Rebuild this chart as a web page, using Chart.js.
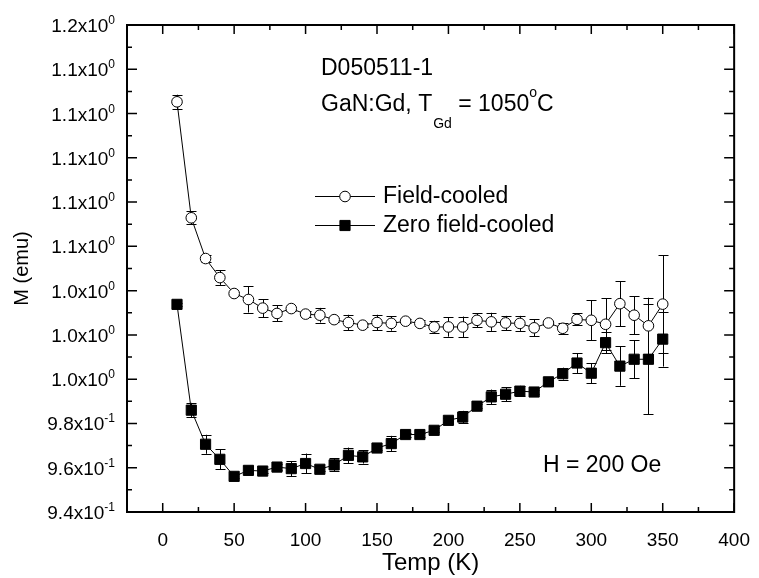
<!DOCTYPE html>
<html>
<head>
<meta charset="utf-8">
<script src="https://cdn.jsdelivr.net/npm/chart.js@4.4.0/dist/chart.umd.min.js"></script>
<style>
  html, body { margin: 0; padding: 0; background: #fff; }
  canvas { display: block; }
</style>
</head>
<body>
<canvas id="mt-chart" width="759" height="578"></canvas>
<script>
// Temperature sweep (K)
const temps = [10, 20, 30, 40, 50, 60, 70, 80, 90, 100,
               110, 120, 130, 140, 150, 160, 170, 180, 190, 200,
               210, 220, 230, 240, 250, 260, 270, 280, 290, 300,
               310, 320, 330, 340, 350];

// Field-cooled magnetisation (emu) and its error
const fcMoment = [1.1253, 1.0729, 1.0545, 1.0459, 1.0387, 1.0360, 1.0321, 1.0297, 1.0319, 1.0294,
                  1.0289, 1.0269, 1.0256, 1.0244, 1.0256, 1.0252, 1.0262, 1.0252, 1.0236, 1.0236,
                  1.0236, 1.0266, 1.0259, 1.0254, 1.0252, 1.0232, 1.0254, 1.0230, 1.0270, 1.0266,
                  1.0248, 1.0341, 1.0289, 1.0241, 1.0339];
const fcError = [0.0032, 0.0029, 0.0014, 0.0033, 0.0007, 0.0059, 0.0041, 0.0036, 0.0009, 0.0014,
                 0.0033, 0.0009, 0.0035, 0.0009, 0.0035, 0.0033, 0.0009, 0.0014, 0.0028, 0.0044,
                 0.0047, 0.0032, 0.0041, 0.0032, 0.0034, 0.0038, 0.0009, 0.0024, 0.0027, 0.0090,
                 0.0118, 0.0102, 0.0086, 0.0127, 0.0221];

// Zero-field-cooled magnetisation (emu) and its error
const zfcMoment = [1.0338, 0.9860, 0.9706, 0.9638, 0.9561, 0.9588, 0.9585, 0.9603, 0.9596, 0.9619,
                   0.9593, 0.9613, 0.9656, 0.9649, 0.9689, 0.9709, 0.9750, 0.9750, 0.9769, 0.9814,
                   0.9829, 0.9878, 0.9920, 0.9932, 0.9946, 0.9942, 0.9988, 1.0025, 1.0073, 1.0027,
                   1.0165, 1.0059, 1.0090, 1.0090, 1.0181];
const zfcError = [0.0007, 0.0033, 0.0043, 0.0045, 0.0009, 0.0018, 0.0009, 0.0014, 0.0034, 0.0045,
                  0.0009, 0.0030, 0.0035, 0.0030, 0.0009, 0.0035, 0.0009, 0.0009, 0.0009, 0.0009,
                  0.0028, 0.0009, 0.0033, 0.0032, 0.0024, 0.0009, 0.0009, 0.0027, 0.0045, 0.0045,
                  0.0047, 0.0089, 0.0086, 0.0249, 0.0124];

const xTickValues = [0, 50, 100, 150, 200, 250, 300, 350, 400];
const xMinorValues = [25, 75, 125, 175, 225, 275, 325, 375];
const yTickValues = [0.94, 0.96, 0.98, 1.00, 1.02, 1.04, 1.06, 1.08, 1.10, 1.12, 1.14, 1.16];
const yMinorValues = [0.95, 0.97, 0.99, 1.01, 1.03, 1.05, 1.07, 1.09, 1.11, 1.13, 1.15];

const FONT = "'Liberation Sans', Arial, sans-serif";

const toPoints = (ys) => temps.map((t, i) => ({ x: t, y: ys[i] }));

// "9.4x10^-1" style labels: mantissa plus raised exponent
function sciParts(v) {
    const exp = Math.floor(Math.log10(v) + 1e-9);
    const mant = v / Math.pow(10, exp);
    return { mant: mant.toFixed(1) + 'x10', exp: String(exp) };
}

const errorBars = {
    id: 'errorBars',
    beforeDatasetsDraw(chart) {
        const { ctx, scales: { x, y } } = chart;
        ctx.save();
        ctx.strokeStyle = '#000';
        ctx.lineWidth = 1;
        chart.data.datasets.forEach(ds => {
            ds.data.forEach((p, i) => {
                const e = ds.errors[i];
                const px = Math.round(x.getPixelForValue(p.x)) + 0.5;
                const y1 = y.getPixelForValue(p.y - e);
                const y2 = y.getPixelForValue(p.y + e);
                ctx.beginPath();
                ctx.moveTo(px, y1); ctx.lineTo(px, y2);
                ctx.moveTo(px - 5, Math.round(y1) + 0.5); ctx.lineTo(px + 5, Math.round(y1) + 0.5);
                ctx.moveTo(px - 5, Math.round(y2) + 0.5); ctx.lineTo(px + 5, Math.round(y2) + 0.5);
                ctx.stroke();
            });
        });
        ctx.restore();
    }
};

// Boxed frame with inward ticks on all four sides, and the y labels
const frameTicks = {
    id: 'frameTicks',
    afterDraw(chart) {
        const { ctx, chartArea: a, scales: { x, y } } = chart;
        ctx.save();
        ctx.strokeStyle = '#000';
        ctx.lineWidth = 1.5;
        const xt = (v, len) => {
            const px = x.getPixelForValue(v);
            ctx.beginPath();
            ctx.moveTo(px, a.bottom); ctx.lineTo(px, a.bottom - len);
            ctx.moveTo(px, a.top); ctx.lineTo(px, a.top + len);
            ctx.stroke();
        };
        const yt = (v, len) => {
            const py = y.getPixelForValue(v);
            ctx.beginPath();
            ctx.moveTo(a.left, py); ctx.lineTo(a.left + len, py);
            ctx.moveTo(a.right, py); ctx.lineTo(a.right - len, py);
            ctx.stroke();
        };
        xTickValues.forEach(v => xt(v, 9));
        xMinorValues.forEach(v => xt(v, 5));
        yTickValues.forEach(v => yt(v, 10));
        yMinorValues.forEach(v => yt(v, 5));

        ctx.lineWidth = 2;
        ctx.strokeRect(a.left, a.top, a.right - a.left, a.bottom - a.top);

        ctx.fillStyle = '#000';
        ctx.textBaseline = 'alphabetic';
        ctx.textAlign = 'right';
        const right = a.left - 12;
        yTickValues.forEach(v => {
            const py = y.getPixelForValue(v);
            const { mant, exp } = sciParts(v);
            ctx.font = '12px ' + FONT;
            const ew = ctx.measureText(exp).width;
            ctx.fillText(exp, right, py - 1);
            ctx.font = '19px ' + FONT;
            ctx.fillText(mant, right - ew, py + 7);
        });
        ctx.restore();
    }
};

// Sample notes, legend and field label inside the plot
const notes = {
    id: 'notes',
    afterDraw(chart) {
        const { ctx } = chart;
        ctx.save();
        ctx.fillStyle = '#000';
        ctx.strokeStyle = '#000';
        ctx.textAlign = 'left';
        ctx.textBaseline = 'alphabetic';

        ctx.font = '23px ' + FONT;
        ctx.fillText('D050511-1', 321, 75);

        let cx = 321;
        const run = (txt, size, base) => {
            ctx.font = size + 'px ' + FONT;
            ctx.fillText(txt, cx, base);
            cx += ctx.measureText(txt).width;
        };
        run('GaN:Gd, T', 23, 111);
        cx += 1;
        run('Gd', 14, 128);
        run(' = 1050', 23, 111);
        run('o', 14, 97);
        run('C', 23, 111);

        ctx.font = '23px ' + FONT;
        ctx.fillText('H = 200 Oe', 543, 472);

        chart.data.datasets.forEach((ds, i) => {
            const ly = 196 + i * 29;
            ctx.lineWidth = 1;
            ctx.beginPath();
            ctx.moveTo(315, ly + 0.5); ctx.lineTo(375, ly + 0.5);
            ctx.stroke();
            ctx.fillStyle = ds.pointBackgroundColor;
            Chart.helpers.drawPoint(ctx, {
                pointStyle: ds.pointStyle, radius: ds.pointRadius,
                rotation: 0, borderWidth: ds.pointBorderWidth
            }, 345, ly + 0.5);
            ctx.fillStyle = '#000';
            ctx.font = '23px ' + FONT;
            ctx.textBaseline = 'middle';
            ctx.fillText(ds.label, 383, ly + 1);
            ctx.textBaseline = 'alphabetic';
        });
        ctx.restore();
    }
};

new Chart(document.getElementById('mt-chart'), {
    type: 'scatter',
    data: {
        datasets: [
            {
                label: 'Field-cooled',
                data: toPoints(fcMoment),
                errors: fcError,
                showLine: true,
                borderColor: '#000',
                borderWidth: 1,
                pointStyle: 'circle',
                pointRadius: 5.3,
                pointBackgroundColor: '#fff',
                pointBorderColor: '#000',
                pointBorderWidth: 1
            },
            {
                label: 'Zero field-cooled',
                data: toPoints(zfcMoment),
                errors: zfcError,
                showLine: true,
                borderColor: '#000',
                borderWidth: 1,
                pointStyle: 'rect',
                pointRadius: 7.2,
                pointBackgroundColor: '#000',
                pointBorderColor: '#000',
                pointBorderWidth: 1
            }
        ]
    },
    options: {
        responsive: false,
        devicePixelRatio: 1,
        animation: false,
        events: [],
        layout: { padding: { top: 25, right: 18, bottom: 0, left: 0 } },
        plugins: { legend: { display: false }, tooltip: { enabled: false } },
        scales: {
            x: {
                type: 'linear',
                min: -25,
                max: 400,
                grid: { display: false },
                border: { display: false },
                afterBuildTicks: (scale) => { scale.ticks = xTickValues.map(value => ({ value })); },
                afterFit: (scale) => { scale.height = 66; },
                ticks: { color: '#000', font: { family: FONT, size: 19 }, padding: 9, maxRotation: 0 },
                title: { display: true, text: 'Temp (K)', color: '#000', font: { family: FONT, size: 24 }, padding: { top: 0, bottom: 0 } }
            },
            y: {
                type: 'linear',
                min: 0.94,
                max: 1.16,
                grid: { display: false },
                border: { display: false },
                afterFit: (scale) => { scale.width = 127; },
                ticks: { display: false },
                title: { display: true, text: 'M (emu)', color: '#000', font: { family: FONT, size: 20 }, padding: { top: 10, bottom: 0 } }
            }
        }
    },
    plugins: [errorBars, frameTicks, notes]
});
</script>
</body>
</html>
